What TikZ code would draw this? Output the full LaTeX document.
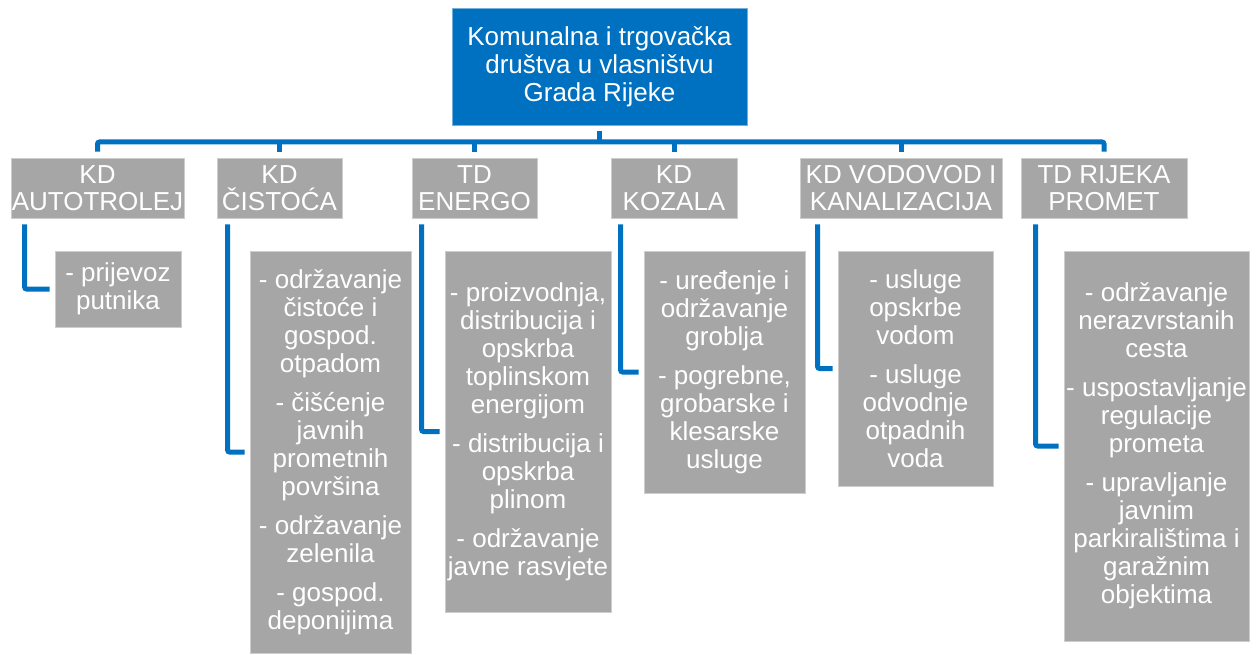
\documentclass[tikz,border=0pt]{standalone}
\usepackage{fontspec}
\setmainfont{Liberation Sans}
\usetikzlibrary{calc}
\definecolor{orgblue}{RGB}{0,112,192}
\definecolor{orggray}{RGB}{166,166,166}
\definecolor{orgedge}{RGB}{205,205,205}

\begin{document}
\begin{tikzpicture}[x=1pt, y=1pt,
  font=\fontsize{26}{28}\selectfont,
  top/.style={fill=orgblue, draw=orgblue!55!white, line width=0.8pt, text=white, align=center, inner sep=0pt},
  firm/.style={fill=orggray, draw=orgedge, line width=0.8pt, text=white, align=center, inner sep=0pt, minimum height=60pt, font=\fontsize{26}{27}\selectfont},
  task/.style={fill=orggray, draw=orgedge, line width=0.8pt, text=white, align=center, inner sep=0pt},
  link/.style={draw=orgblue, line width=5pt, rounded corners=2pt}]

  % Fix the size of the page
  \useasboundingbox (0,0) rectangle (1258,-655);

  % Define the height of the bus line
  \def\busy{-142}
  \coordinate (bus) at (0,\busy);

  % Draw the top box
  \node[top, minimum width=295pt, minimum height=117pt] (root) at (599.5,-66.5)
    {Komunalna i trgova\v{c}ka\\dru\v{s}tva u vlasni\v{s}tvu\\Grada Rijeke};

  % Draw the companies
  \node[firm, minimum width=173pt] (autotrolej) at (97.5,-188) {KD\\AUTOTROLEJ};
  \node[firm, minimum width=125pt] (cistoca) at (279.5,-188) {KD\\\v{C}ISTO\'{C}A};
  \node[firm, minimum width=125pt] (energo) at (474.5,-188) {TD\\ENERGO};
  \node[firm, minimum width=126pt] (kozala) at (674,-188) {KD\\KOZALA};
  \node[firm, minimum width=202pt] (vodovod) at (901,-188) {KD VODOVOD I\\KANALIZACIJA};
  \node[firm, minimum width=166pt] (promet) at (1104,-188) {TD RIJEKA\\PROMET};

  % Draw the tasks
  \node[task, minimum width=126pt, minimum height=76pt] (prijevoz) at (118,-289)
    {- prijevoz\\putnika};
  \node[task, minimum width=161pt, minimum height=402pt] (cistocaT) at (330.5,-452)
    {- odr\v{z}avanje\\\v{c}isto\'{c}e i\\gospod.\\otpadom\\[11pt]
     - \v{c}i\v{s}\'{c}enje\\javnih\\prometnih\\povr\v{s}ina\\[11pt]
     - odr\v{z}avanje\\zelenila\\[11pt]
     - gospod.\\deponijima};
  \node[task, minimum width=166pt, minimum height=361pt] (energoT) at (528,-431.5)
    {- proizvodnja,\\distribucija i\\opskrba\\toplinskom\\energijom\\[11pt]
     - distribucija i\\opskrba\\plinom\\[11pt]
     - odr\v{z}avanje\\javne rasvjete};
  \node[task, minimum width=161pt, minimum height=242pt] (kozalaT) at (724.5,-372)
    {- ure\dj{}enje i\\odr\v{z}avanje\\groblja\\[11pt]
     - pogrebne,\\grobarske i\\klesarske\\usluge};
  \node[task, minimum width=155pt, minimum height=235pt] (vodovodT) at (915.5,-368.5)
    {- usluge\\opskrbe\\vodom\\[11pt]
     - usluge\\odvodnje\\otpadnih\\voda};
  \node[task, minimum width=185pt, minimum height=390pt] (prometT) at (1156.5,-446)
    {- odr\v{z}avanje\\nerazvrstanih\\cesta\\[11pt]
     - uspostavljanje\\regulacije\\prometa\\[11pt]
     - upravljanje\\javnim\\parkirali\v{s}tima i\\gara\v{z}nim\\objektima};

  % Draw the tree lines
  \draw[link] ([yshift=-6pt]root.south) -- (root.south |- bus);
  \draw[link] ([yshift=6pt]autotrolej.north) |- (promet.north |- bus) -- ([yshift=6pt]promet.north);
  \foreach \n in {cistoca, energo, kozala, vodovod}
    \draw[link] ([yshift=6pt]\n.north) -- (\n.north |- bus);

  % Draw the elbows to the tasks
  \draw[link] ([xshift=14pt, yshift=-6pt]autotrolej.south west) |- ([xshift=-5pt]prijevoz.west);
  \draw[link] ([xshift=11pt, yshift=-6pt]cistoca.south west) |- ([xshift=-5pt]cistocaT.west);
  \draw[link] ([xshift=10pt, yshift=-6pt]energo.south west) |- ([xshift=-5pt]energoT.west);
  \draw[link] ([xshift=10pt, yshift=-6pt]kozala.south west) |- ([xshift=-5pt]kozalaT.west);
  \draw[link] ([xshift=18pt, yshift=-6pt]vodovod.south west) |- ([xshift=-5pt]vodovodT.west);
  \draw[link] ([xshift=15pt, yshift=-6pt]promet.south west) |- ([xshift=-5pt]prometT.west);

\end{tikzpicture}
\end{document}
